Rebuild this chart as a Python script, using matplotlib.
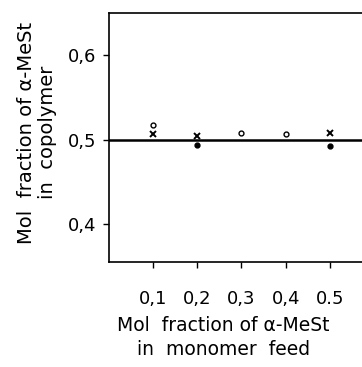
import matplotlib.pyplot as plt

# feed composition (mol fraction alpha-MeSt)
x_open = [0.1, 0.3, 0.4]
y_open = [0.517, 0.508, 0.507]

x_cross = [0.1, 0.2, 0.5]
y_cross = [0.507, 0.504, 0.508]

x_fill = [0.2, 0.5]
y_fill = [0.494, 0.492]

x_ticks = [0.1, 0.2, 0.3, 0.4, 0.5]
x_ticklabels = ['0,1', '0,2', '0,3', '0,4', '0.5']
y_ticks = [0.4, 0.5, 0.6]
y_ticklabels = ['0,4', '0,5', '0,6']

fig = plt.figure(figsize=(3.62, 3.67), dpi=100)
ax = fig.add_axes([0.301, 0.286, 0.72, 0.679])

ax.axhline(0.5, color='black', lw=1.8)
ax.plot(x_open, y_open, 'o', ms=3.5, mfc='white', mec='black', mew=1.0)
ax.plot(x_cross, y_cross, 'x', ms=4.5, color='black', mew=1.4)
ax.plot(x_fill, y_fill, 'o', ms=3.5, color='black')

ax.set_xlim(0, 0.59)
ax.set_ylim(0.355, 0.65)
ax.set_xticks(x_ticks)
ax.set_xticklabels(x_ticklabels)
ax.set_yticks(y_ticks)
ax.set_yticklabels(y_ticklabels)
for lab in ax.get_xticklabels() + ax.get_yticklabels():
    lab.set_fontsize(13)
ax.tick_params(length=4, width=1)
ax.tick_params(axis='x', pad=16)
ax.tick_params(axis='y', pad=5)

ax.spines['right'].set_visible(False)
for s in ['left', 'bottom', 'top']:
    ax.spines[s].set_linewidth(1.2)

ax.set_xlabel('Mol  fraction of α-MeSt\nin  monomer  feed', fontsize=13.5, linespacing=1.35)
ax.xaxis.set_label_coords(0.44, -0.215, transform=ax.transAxes)
ax.xaxis.label.set_va('top')
ax.set_ylabel('Mol  fraction of α-MeSt\nin  copolymer', fontsize=14, linespacing=1.15)
ax.yaxis.set_label_coords(-0.20, 0.52, transform=ax.transAxes)

fig.savefig('out.png', dpi=100)
